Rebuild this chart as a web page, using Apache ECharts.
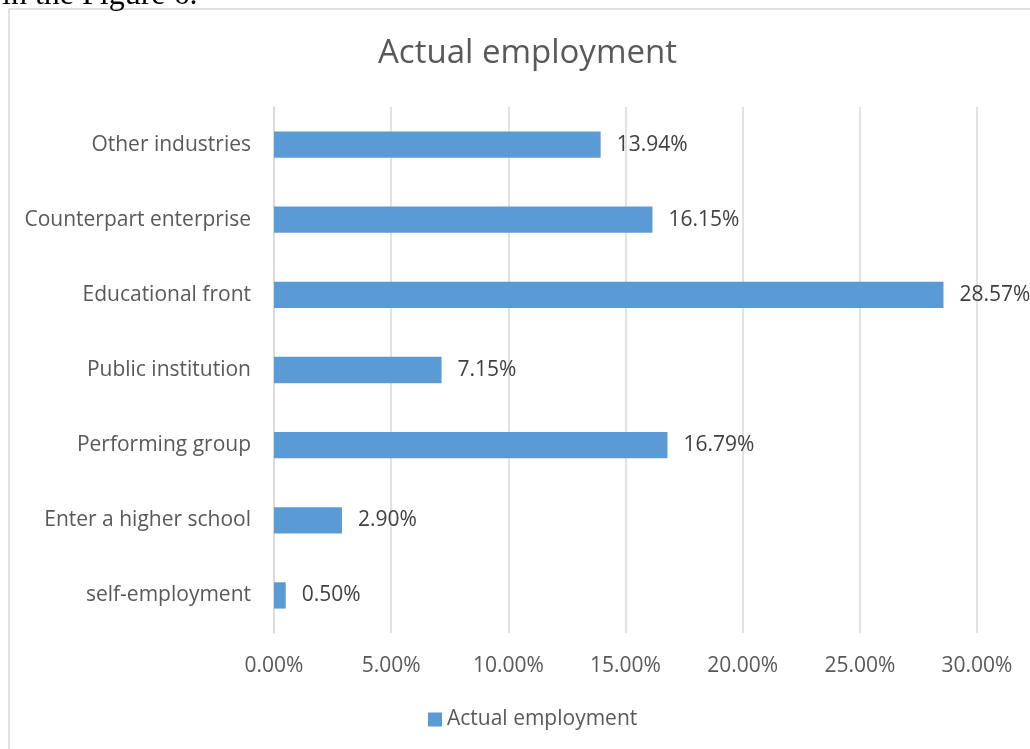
<!DOCTYPE html>
<html>
<head>
<meta charset="utf-8">
<script src="https://cdn.jsdelivr.net/npm/echarts@6/dist/echarts.min.js"></script>
<style>html,body{margin:0;padding:0;background:#fff;}#c{width:1030px;height:749px;}</style>
</head>
<body>
<div id="c"></div>
<script>
const categories = ["Other industries","Counterpart enterprise","Educational front","Public institution","Performing group","Enter a higher school","self-employment"];
const values = [13.94, 16.15, 28.57, 7.15, 16.79, 2.90, 0.50];
const seriesName = "Actual employment";
const titleText = "Actual employment";

const FONT = "'Open Sans', sans-serif";
const chart = echarts.init(document.getElementById('c'));
chart.setOption({
  animation: false,
  backgroundColor: '#fff',
  title: {text: titleText, left: 373, top: 32, textStyle: {fontFamily: FONT, fontSize: 33, fontWeight: 'normal', color: '#595959'}},
  grid: {left: 274, right: 53, top: 107, bottom: 116, containLabel: false},
  legend: {data: [seriesName], left: 423, top: 704, itemWidth: 14, itemHeight: 14, icon: 'rect', itemGap: 5,
    textStyle: {fontFamily: FONT, fontSize: 21, color: '#595959'}},
  xAxis: {type: 'value', min: 0, max: 30, interval: 5,
    axisLine: {show: false}, axisTick: {show: false},
    splitLine: {lineStyle: {color: '#d9d9d9', width: 1.5}},
    axisLabel: {margin: 23, fontFamily: FONT, fontSize: 21, color: '#595959', formatter: v => v.toFixed(2) + '%'}},
  yAxis: {type: 'category', data: categories, inverse: true,
    axisLine: {show: true, lineStyle: {color: '#d9d9d9', width: 1.5}}, axisTick: {show: false},
    axisLabel: {margin: 23, fontFamily: FONT, fontSize: 21, color: '#595959'}},
  series: [{name: seriesName, type: 'bar', data: values, barWidth: '35%',
    itemStyle: {color: '#5B9BD5'},
    label: {show: true, position: 'right', distance: 16, fontFamily: FONT, fontSize: 21, color: '#404040', formatter: p => p.value.toFixed(2) + '%'}}],
  graphic: [
    {type: 'rect', shape: {x: 9, y: 9, width: 1100, height: 800}, style: {fill: 'none', stroke: '#d9d9d9', lineWidth: 1.5}, silent: true},
    {type: 'text', x: 2, y: 12, style: {text: 'in the Figure 6.', fontFamily: "'Liberation Serif', serif", fontSize: 32, fill: '#000', verticalAlign: 'bottom'}, silent: true}
  ]
});
</script>
</body>
</html>
